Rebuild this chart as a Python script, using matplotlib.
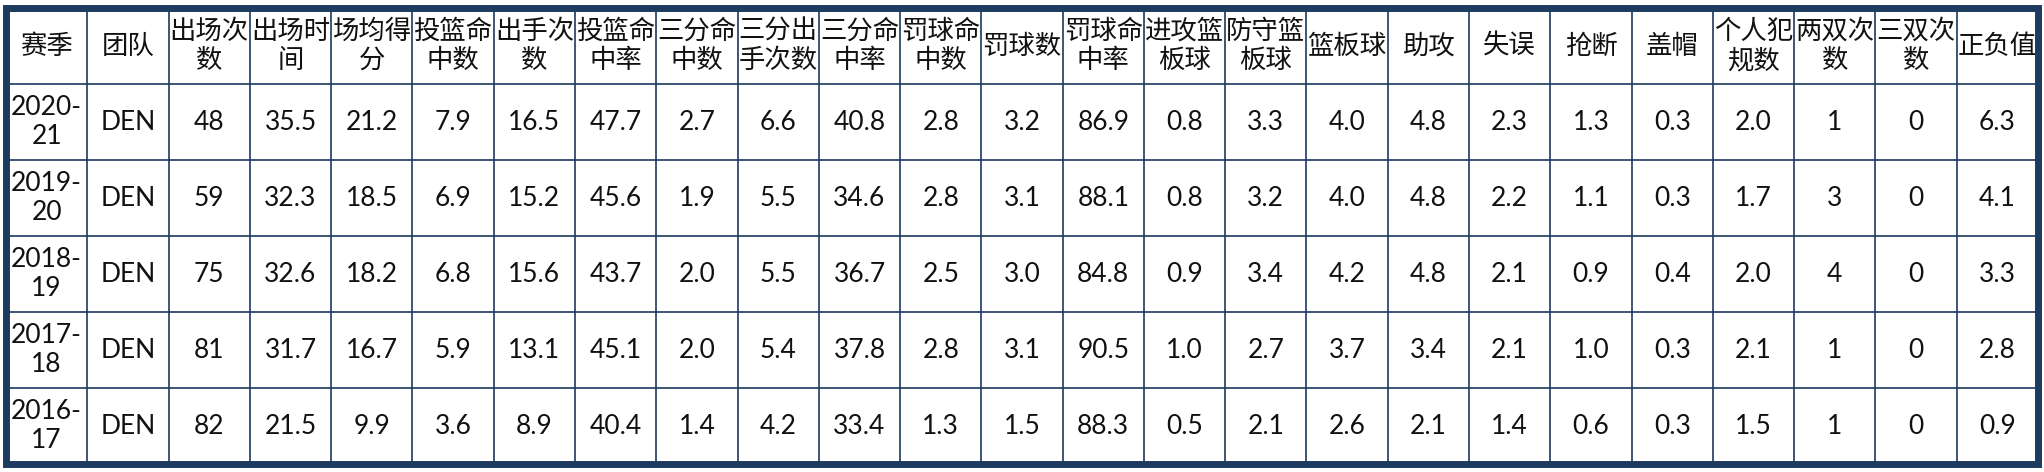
import matplotlib
matplotlib.use("Agg")
import matplotlib.pyplot as plt

plt.rcParams['font.family'] = ['Lato', 'Noto Sans CJK SC', 'DejaVu Sans']

headers = ["赛季", "团队", "出场次\n数", "出场时\n间", "场均得\n分", "投篮命\n中数", "出手次\n数", "投篮命\n中率",
           "三分命\n中数", "三分出\n手次数", "三分命\n中率", "罚球命\n中数", "罚球数", "罚球命\n中率", "进攻篮\n板球",
           "防守篮\n板球", "篮板球", "助攻", "失误", "抢断", "盖帽", "个人犯\n规数", "两双次\n数", "三双次\n数", "正负值"]
seasons = ["2020-\n21", "2019-\n20", "2018-\n19", "2017-\n18", "2016-\n17"]
teams = ["DEN"] * 5
games = ["48", "59", "75", "81", "82"]
minutes = ["35.5", "32.3", "32.6", "31.7", "21.5"]
points = ["21.2", "18.5", "18.2", "16.7", "9.9"]
fgm = ["7.9", "6.9", "6.8", "5.9", "3.6"]
fga = ["16.5", "15.2", "15.6", "13.1", "8.9"]
fgp = ["47.7", "45.6", "43.7", "45.1", "40.4"]
tpm = ["2.7", "1.9", "2.0", "2.0", "1.4"]
tpa = ["6.6", "5.5", "5.5", "5.4", "4.2"]
tpp = ["40.8", "34.6", "36.7", "37.8", "33.4"]
ftm = ["2.8", "2.8", "2.5", "2.8", "1.3"]
fta = ["3.2", "3.1", "3.0", "3.1", "1.5"]
ftp = ["86.9", "88.1", "84.8", "90.5", "88.3"]
oreb = ["0.8", "0.8", "0.9", "1.0", "0.5"]
dreb = ["3.3", "3.2", "3.4", "2.7", "2.1"]
reb = ["4.0", "4.0", "4.2", "3.7", "2.6"]
ast = ["4.8", "4.8", "4.8", "3.4", "2.1"]
tov = ["2.3", "2.2", "2.1", "2.1", "1.4"]
stl = ["1.3", "1.1", "0.9", "1.0", "0.6"]
blk = ["0.3", "0.3", "0.4", "0.3", "0.3"]
pf = ["2.0", "1.7", "2.0", "2.1", "1.5"]
dd = ["1", "3", "4", "1", "1"]
td = ["0", "0", "0", "0", "0"]
pm = ["6.3", "4.1", "3.3", "2.8", "0.9"]

cols = [seasons, teams, games, minutes, points, fgm, fga, fgp, tpm, tpa, tpp, ftm, fta, ftp,
        oreb, dreb, reb, ast, tov, stl, blk, pf, dd, td, pm]

W, H = 2044, 472
fig = plt.figure(figsize=(W / 100, H / 100), dpi=100)
ax = fig.add_axes([0, 0, 1, 1])
ax.set_xlim(0, W)
ax.set_ylim(H, 0)
ax.axis('off')

edge = "#1d3a5f"
x0, x1 = 6, W - 6
y0, y1 = 8, H - 8
ncol = len(headers)
nrow = len(seasons) + 1
cw = (x1 - x0) / ncol
rh = (y1 - y0) / nrow

for i in range(1, ncol):
    ax.plot([x0 + i * cw] * 2, [y0, y1], color=edge, lw=1.2)
for j in range(1, nrow):
    ax.plot([x0, x1], [y0 + j * rh] * 2, color=edge, lw=1.2)
ax.add_patch(plt.Rectangle((x0, y0), x1 - x0, y1 - y0, fill=False, ec=edge, lw=5))

fs = 19
for i, h in enumerate(headers):
    ax.text(x0 + (i + 0.5) * cw, y0 + 0.5 * rh, h, ha='center', va='center', fontsize=fs,
            linespacing=1.2, color="#111111")
for i, col in enumerate(cols):
    for j, v in enumerate(col):
        ax.text(x0 + (i + 0.5) * cw, y0 + (j + 1.5) * rh, v, ha='center', va='center', fontsize=fs,
                linespacing=1.2, color="#111111")

fig.savefig("out.png", dpi=100)
